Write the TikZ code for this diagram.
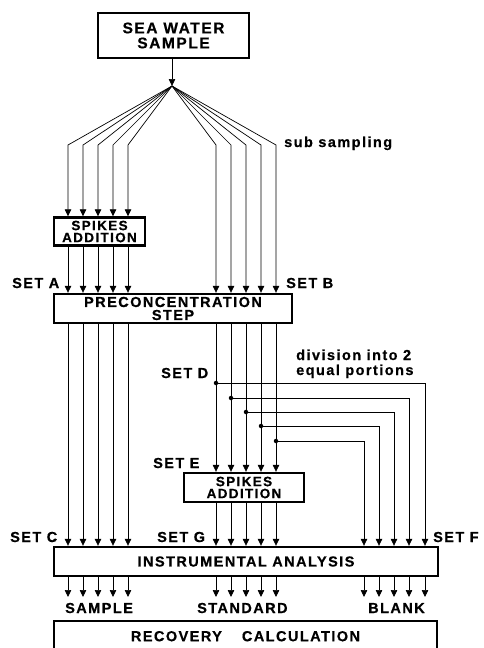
\documentclass[tikz,border=0pt]{standalone}
\usepackage{fontspec}
\setmainfont{Liberation Sans}[LetterSpace=10,BoldFeatures={FakeBold=0.6}]
\usetikzlibrary{arrows.meta,calc}
\begin{document}
\begin{tikzpicture}[x=1pt,y=-1pt,
  box/.style={draw,line width=2.4pt,inner sep=0pt,align=center,font=\fontsize{14.5}{13}\selectfont\bfseries},
  arr/.style={line width=0.7pt,-{Triangle[width=6.5pt,length=7pt]}},
  lab/.style={font=\fontsize{14.5}{13}\selectfont\bfseries,inner sep=0pt,anchor=base west},
  dot/.style={circle,fill,inner sep=0pt,minimum size=4.5pt}]
\useasboundingbox (0,0) rectangle (483,648);
% boxes
\node[box,minimum width=151pt,minimum height=45pt,font=\fontsize{15.5}{15}\selectfont\bfseries] (sea) at (173.5,35.5) {SEA WATER\\SAMPLE};
\node[box,minimum width=91pt,minimum height=28pt,font=\fontsize{13.5}{12}\selectfont\bfseries] (spk1) at (99.5,231.5) {SPIKES\\ADDITION};
\node[box,minimum width=238pt,minimum height=29pt] (pre) at (173,308.5) {PRECONCENTRATION\\STEP};
\node[box,minimum width=120pt,minimum height=29pt,font=\fontsize{13.5}{12}\selectfont\bfseries] (spk2) at (244,487.5) {SPIKES\\ADDITION};
\node[box,minimum width=384pt,minimum height=29pt] (ins) at (246,561.5) {INSTRUMENTAL ANALYSIS};
\node[box,anchor=north,minimum width=383pt,inner ysep=4pt,text height=16pt,text depth=15pt] (rec) at (245.5,620) {RECOVERY\hspace{20pt}CALCULATION};
% coordinates
\coordinate (F) at (172,86);
\coordinate (out) at (0,597);
\draw[arr] (F |- sea.south) -- (F);
\foreach \x [count=\i] in {68,83,98,113,128} {
  \coordinate (L\i) at (\x,145);
  \draw[arr] (F) -- (L\i) -- (L\i |- spk1.north);
  \draw[arr] (L\i |- spk1.south) -- (L\i |- pre.north);
  \draw[arr] (L\i |- pre.south) -- (L\i |- ins.north);
  \draw[arr] (L\i |- ins.south) -- (L\i |- out);
}
\foreach \x [count=\i] in {216,231,246,261,276} {
  \coordinate (R\i) at (\x,145);
  \draw[arr] (F) -- (R\i) -- (R\i |- pre.north);
  \draw[arr] (R\i |- pre.south) -- (R\i |- spk2.north);
  \draw[arr] (R\i |- spk2.south) -- (R\i |- ins.north);
  \draw[arr] (R\i |- ins.south) -- (R\i |- out);
}
\foreach \dy/\bx [count=\i] in {383/425,398/409,412/394,426/379,441/364} {
  \node[dot] (d\i) at (R\i |- 0,\dy) {};
  \coordinate (B\i) at (\bx,0);
  \draw[arr] (d\i.center) -| (B\i |- ins.north);
  \draw[arr] (B\i |- ins.south) -- (B\i |- out);
}
% labels
\node[lab] (tsub) at (284,147) {sub sampling};
\node[lab] (tA) at (12,288) {SET A};
\node[lab] (tB) at (286,288) {SET B};
\node[lab] (tdiv1) at (296,360) {division into 2};
\node[lab] (tdiv2) at (296,375) {equal portions};
\node[lab] (tD) at (161,378) {SET D};
\node[lab] (tE) at (153,468) {SET E};
\node[lab] (tC) at (10,542) {SET C};
\node[lab] (tG) at (157,542) {SET G};
\node[lab] (tF) at (433,542) {SET F};
\node[lab] (tS) at (65,613) {SAMPLE};
\node[lab] (tST) at (197,613) {STANDARD};
\node[lab] (tBL) at (368,613) {BLANK};
\end{tikzpicture}
\end{document}
